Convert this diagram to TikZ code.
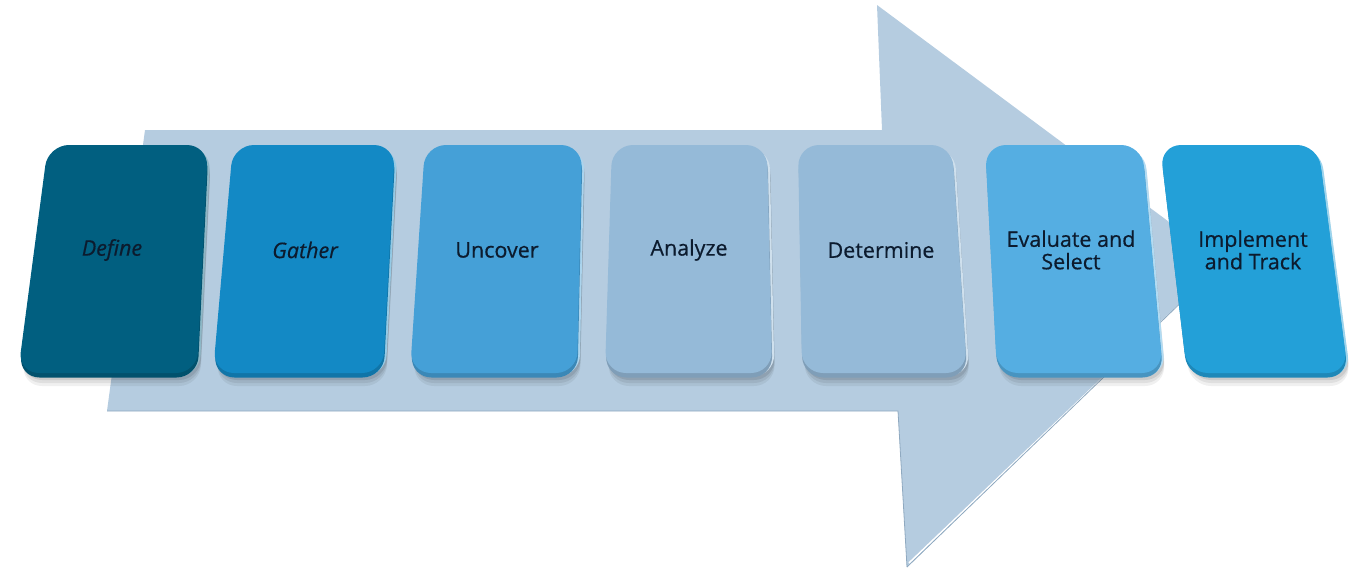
\documentclass[tikz,border=0pt]{standalone}
\usepackage{fontspec}
\setmainfont[Ligatures=NoCommon, FakeBold=0.5]{Open Sans}
\definecolor{arrowc}{HTML}{B5CCE0}
\definecolor{arrowedge}{HTML}{8FA9C0}
\definecolor{textnavy}{HTML}{0C1B2E}
\definecolor{cDefine}{HTML}{015F80}
\definecolor{cGather}{HTML}{1389C5}
\definecolor{cUncover}{HTML}{45A0D7}
\definecolor{cAnalyze}{HTML}{95BAD8}
\definecolor{cDetermine}{HTML}{95BAD8}
\definecolor{cEvaluate}{HTML}{55AEE2}
\definecolor{cImplement}{HTML}{23A0D8}
\tikzset{
  cardshape/.style={rounded corners=21pt},
  cardtext/.style={text=textnavy, font=\fontsize{21.5}{22.5}\selectfont, align=center, inner sep=0pt},
  italictext/.style={cardtext, font=\fontsize{21.5}{22.5}\selectfont\itshape},
}
% #1..#4: x of top-left, top-right, bottom-right, bottom-left corners; #5: colour
\newcommand\drawcard[5]{%
  \foreach \s/\o in {13/0.06, 10/0.07, 7/0.09}{%
    \fill[black, opacity=\o, cardshape, xshift=3pt, yshift=-\s pt]
      (#1,145) -- (#2,145) -- (#3,373) -- (#4,373) -- cycle;}
  \fill[#5!45!white, cardshape, xshift=2.5pt, yshift=-3pt]
    (#1,145) -- (#2,145) -- (#3,373) -- (#4,373) -- cycle;
  \fill[#5!85!black, cardshape, xshift=0.5pt, yshift=-4.5pt]
    (#1,145) -- (#2,145) -- (#3,373) -- (#4,373) -- cycle;
  \fill[#5, cardshape]
    (#1,145) -- (#2,145) -- (#3,373) -- (#4,373) -- cycle;
}
\begin{document}
\begin{tikzpicture}[x=1pt, y=-1pt]
  \useasboundingbox (0,0) rectangle (1366,570);

  % the large arrow behind the steps
  \fill[arrowc] (145,130) -- (882,130) -- (877,5) -- (1223,262)
    -- (907,567) -- (898,411) -- (107,411) -- cycle;
  \draw[arrowedge, line width=0.8pt] (107,411) -- (898,411) -- (907,567);
  \draw[white, line width=1.6pt] (909,563) -- (1221,265);
  \draw[arrowedge, line width=0.8pt] (907,567) -- (1223,262);

  % steps
  \drawcard{48}{208}{197}{18}{cDefine}
  \drawcard{233}{395}{383}{213}{cGather}
  \drawcard{425}{582}{577}{410}{cUncover}
  \drawcard{612}{767}{772}{605}{cAnalyze}
  \drawcard{798}{952}{967}{802}{cDetermine}
  \drawcard{985}{1142}{1163}{997}{cEvaluate}
  \drawcard{1160}{1318}{1348}{1187}{cImplement}

  \node[italictext] (define) at (112,250) {Define};
  \node[italictext] (gather) at (305,250) {Gather};
  \node[cardtext] (uncover) at (497,250) {Uncover};
  \node[cardtext] (analyze) at (689,250) {Analyze};
  \node[cardtext] (determine) at (881,250) {Determine};
  \node[cardtext] (evaluate) at (1071,250) {Evaluate and\\Select};
  \node[cardtext] (implement) at (1253,250) {Implement\\and Track};
\end{tikzpicture}
\end{document}
